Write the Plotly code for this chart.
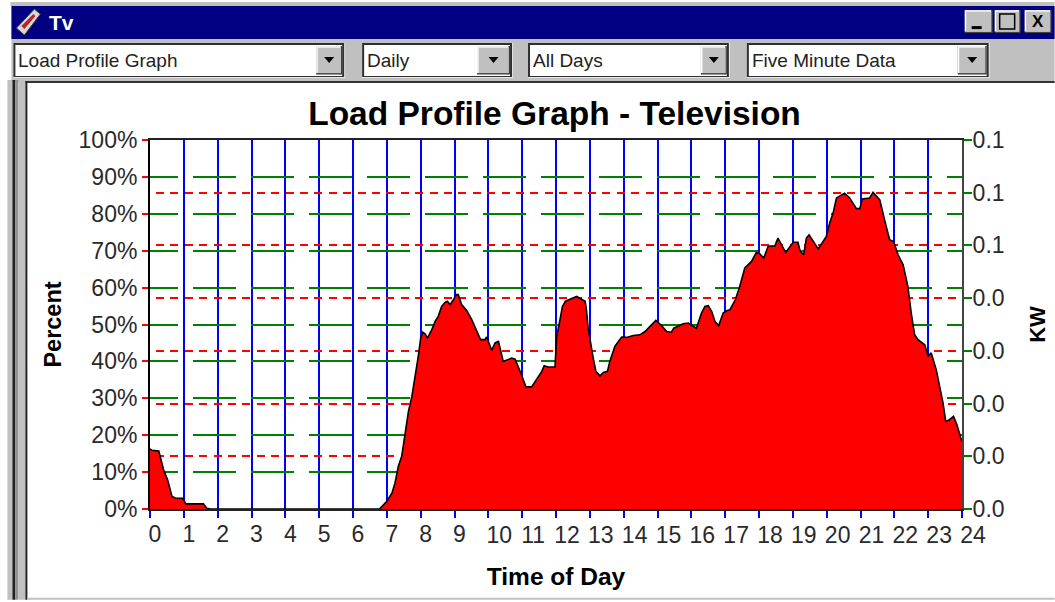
import plotly.graph_objects as go

hours = [0, 0.06, 0.26, 0.32, 0.40, 0.52, 0.65, 0.75, 0.97, 1.06, 1.58, 1.68, 1.78, 3, 5, 6.78,
         7.0, 7.15, 7.24, 7.34, 7.44, 7.54, 7.64, 7.74, 7.83, 7.93, 8.0, 8.06, 8.13, 8.2, 8.33, 8.43, 8.52, 8.62, 8.72, 8.79, 8.87, 8.97, 9.05, 9.11,
         9.21, 9.36, 9.51, 9.66, 9.77, 9.9, 9.95, 10.1, 10.2, 10.3, 10.44, 10.69, 10.79, 10.98, 11.11, 11.28, 11.43, 11.58, 11.65, 11.77, 11.97,
         12.02, 12.1, 12.19, 12.28, 12.46, 12.61, 12.86, 12.9, 12.95, 13.02, 13.1, 13.18, 13.3, 13.4, 13.52, 13.59, 13.74, 13.94, 14.09, 14.28, 14.48,
         14.63, 14.78, 14.85, 14.95, 15.12, 15.27, 15.41, 15.48, 15.76, 15.91, 16.15, 16.3, 16.4, 16.5, 16.6, 16.7, 16.81, 16.94, 17.04, 17.14,
         17.3, 17.43, 17.58, 17.78, 17.92, 18.02, 18.14, 18.27, 18.47, 18.56, 18.79, 19.01, 19.15, 19.22, 19.32, 19.4, 19.48, 19.6, 19.75, 19.99,
         20.09, 20.19, 20.29, 20.53, 20.68, 20.88, 20.98, 21.05, 21.27, 21.37, 21.57, 21.71, 21.86, 21.98, 22.11, 22.26, 22.4, 22.5, 22.6, 22.7,
         22.9, 23.0, 23.09, 23.24, 23.34, 23.44, 23.52, 23.63, 23.75, 23.85, 23.95, 24.0]
percent = [16.3, 15.9, 15.7, 13.8, 10.7, 7.9, 3.4, 3.0, 2.9, 1.4, 1.4, 0.2, 0, 0, 0, 0,
           2.1, 4.3, 7.0, 11.6, 14.3, 20.1, 26.5, 30.5, 35.5, 41.4, 46.3, 47.9, 47.5, 46.3, 48.6, 50.9, 52.2, 54.9, 56.0, 56.3, 55.4, 56.7, 58.1, 58.1,
           55.4, 53.8, 51.3, 48.1, 45.9, 45.9, 46.6, 43.0, 45.0, 45.4, 40.0, 40.9, 40.6, 36.4, 33.1, 33.1, 35.2, 37.3, 38.8, 38.5, 38.5,
           46.8, 50.4, 54.9, 56.3, 56.9, 57.6, 56.3, 54.0, 49.0, 45.0, 40.9, 37.3, 36.1, 37.0, 37.3, 40.0, 44.1, 46.6, 46.5, 47.0, 47.2,
           48.1, 49.5, 50.4, 51.1, 49.7, 48.1, 47.9, 49.0, 50.2, 50.4, 49.0, 53.1, 54.9, 55.1, 53.6, 50.8, 49.7, 53.1, 53.7, 54.0,
           56.7, 60.3, 65.3, 67.1, 69.5, 69.2, 68.0, 71.2, 71.3, 73.4, 69.5, 72.3, 72.3, 69.8, 68.9, 73.4, 74.3, 72.5, 70.5, 73.9,
           77.5, 80.2, 84.3, 85.6, 84.3, 81.4, 81.4, 84.0, 84.3, 85.8, 83.8, 78.4, 73.0, 72.5, 68.9, 66.2, 60.3, 53.1, 47.2, 45.9,
           44.5, 41.4, 42.3, 37.7, 33.2, 28.7, 23.7, 24.2, 25.1, 22.8, 19.7, 18.3]

hour_ticks = list(range(25))
single_digit_labels = [str(h) if h < 10 else "" for h in hour_ticks]
double_digit_ticks = list(range(10, 25))
double_digit_labels = [str(h) for h in double_digit_ticks]
percent_ticks = list(range(0, 101, 10))
percent_labels = [f"{p}%" for p in percent_ticks]
kw_ticks = [0, 0.01, 0.02, 0.03, 0.04, 0.05, 0.06, 0.07]
kw_labels = ["0.0", "0.0", "0.0", "0.0", "0.0", "0.1", "0.1", "0.1"]
menu_labels = ["Load Profile Graph", "Daily", "All Days", "Five Minute Data"]

W, H = 1055, 602
L, R, T, B = 149.7, 962.3, 140.0, 509.3
FONT = "Liberation Sans"
TXT = "#2a2a2a"
GRAY = "#c0c0c0"


def px(x):
    return (x - L) / (R - L)


def py(y):
    return (B - y) / (B - T)


shapes = []


def rect(x0, y0, x1, y1, color):
    shapes.append(dict(type="rect", xref="paper", yref="paper", x0=px(x0), x1=px(x1), y0=py(y0), y1=py(y1),
                       fillcolor=color, line_width=0, layer="below"))


def bevel(x0, y0, x1, y1, face=GRAY):
    rect(x0, y0, x1, y1, "#404040")
    rect(x0, y0, x1 - 1.5, y1 - 1.5, "#ffffff")
    rect(x0 + 1.5, y0 + 1.5, x1 - 1.5, y1 - 1.5, face)


# window chrome
rect(10, 2, W, 6, GRAY)
rect(11, 6, W, 39, "#000080")
rect(11, 39, W, 82, GRAY)
rect(25, 81, W, 83, "#333333")
# left frame
rect(7, 80, 12, 600, GRAY)
rect(12, 80, 15, 600, "#222222")
rect(15, 80, 18, 600, "#909090")
rect(18, 80, 25, 600, GRAY)
rect(25, 81, 27, 600, "#222222")
rect(27, 598, W, 600, GRAY)

combos = [(13, 345, 316), (362, 513, 477), (528, 730, 701), (747, 990, 958)]
annotations = []
for (c0, c1, b0), label in zip(combos, menu_labels):
    rect(c0, 43, c1, 78, "#e8e8e8")
    rect(c0, 43, c1 - 1, 77, "#303030")
    rect(c0 + 2, 45, c1 - 3, 76, "#ffffff")
    bevel(b0, 46, c1 - 3, 74.5)
    ax = (b0 + c1 - 3) / 2
    shapes.append(dict(type="path", xref="paper", yref="paper",
                       path=f"M {px(ax-5)} {py(57)} L {px(ax+5)} {py(57)} L {px(ax)} {py(63)} Z",
                       fillcolor="#000000", line_width=0, layer="below"))
    annotations.append(dict(xref="paper", yref="paper", x=px(c0 + 3), y=py(60.5), text=label, showarrow=False,
                            xanchor="left", yanchor="middle", font=dict(family=FONT, size=19, color="#222222")))

# title-bar buttons
for x0, x1 in [(965, 993), (995, 1021), (1025, 1052)]:
    bevel(x0, 10, x1, 33)
rect(972, 26, 982, 29, "#000000")
shapes.append(dict(type="rect", xref="paper", yref="paper", x0=px(1000), x1=px(1015), y0=py(14), y1=py(29),
                   line=dict(color="#000000", width=1.5), fillcolor="rgba(0,0,0,0)", layer="below"))
annotations.append(dict(xref="paper", yref="paper", x=px(1038.5), y=py(21.5), text="<b>X</b>", showarrow=False,
                        xanchor="center", yanchor="middle", font=dict(family=FONT, size=17, color="#000000")))
annotations.append(dict(xref="paper", yref="paper", x=px(47), y=py(22), text="<b>Tv</b>", showarrow=False,
                        xanchor="left", yanchor="middle", font=dict(family=FONT, size=21, color="#ffffff")))

# window icon
shapes.append(dict(type="path", xref="paper", yref="paper",
                   path=f"M {px(16)} {py(28)} L {px(34)} {py(9)} L {px(40)} {py(14)} L {px(24)} {py(35)} Z",
                   fillcolor="#d8d8d8", line=dict(color="#404040", width=1), layer="below"))
shapes.append(dict(type="path", xref="paper", yref="paper",
                   path=f"M {px(21)} {py(26)} L {px(33)} {py(14)} L {px(35)} {py(16)} L {px(24)} {py(29)} Z",
                   fillcolor="#c02020", line_width=0, layer="below"))

fig = go.Figure()
# invisible companion so the right axis and the second label axis exist
fig.add_trace(go.Scatter(x=[0, 24], y=[0, 0.07], xaxis="x2", yaxis="y2", mode="lines", line=dict(width=0),
                         hoverinfo="skip", showlegend=False))
fig.add_trace(go.Scatter(x=hours, y=percent, mode="lines", fill="tozeroy", fillcolor="#ff0000",
                         line=dict(color="#000000", width=1.6), hoverinfo="skip", showlegend=False))

fig.update_layout(
    width=W, height=H, autosize=False,
    margin=dict(l=L, r=W - R, t=T, b=H - B, pad=0),
    paper_bgcolor="#ffffff", plot_bgcolor="#ffffff",
    font=dict(family=FONT, color=TXT),
    title=dict(text="<b>Load Profile Graph - Television</b>", x=(554.5) / W, xanchor="center",
               y=1 - 113 / H, yanchor="middle", font=dict(family=FONT, size=33.5, color="#000000")),
    xaxis=dict(range=[0, 24], tickmode="array", tickvals=hour_ticks, ticktext=single_digit_labels, automargin=False,
               ticks="outside", ticklen=7, tickwidth=1.5, tickcolor="#0000ff",
               showgrid=True, gridcolor="#0000ff", gridwidth=1.6,
               showline=True, linecolor="#222222", linewidth=2, mirror=True, zeroline=False,
               tickfont=dict(family=FONT, size=23, color=TXT), tickangle=0, ticklabelshift=5, ticklabelstandoff=-4,
               title=dict(text="<b>Time of Day</b>", font=dict(family=FONT, size=24.5, color="#000000"), standoff=22)),
    xaxis2=dict(range=[0, 24], overlaying="x", side="bottom", anchor="y", tickmode="array", automargin=False,
                tickvals=double_digit_ticks, ticktext=double_digit_labels,
                ticks="", showgrid=False, showline=False, zeroline=False,
                tickfont=dict(family=FONT, size=23, color=TXT), tickangle=0, ticklabelshift=11,
                ticklabelstandoff=10),
    yaxis=dict(range=[0, 100], tickmode="array", tickvals=percent_ticks, ticktext=percent_labels, automargin=False,
               ticks="outside", ticklen=6, tickwidth=1.5, tickcolor="#ff0000",
               showgrid=True, gridcolor="#008000", gridwidth=1.5, griddash="28px,15px,15px,0px",
               showline=True, linecolor="#000000", linewidth=2, zeroline=False,
               tickfont=dict(family=FONT, size=23, color=TXT),
               title=dict(text="<b>Percent</b>", font=dict(family=FONT, size=23.5, color="#000000"), standoff=10)),
    yaxis2=dict(range=[0, 0.07], overlaying="y", side="right", anchor="x", tickmode="array", tickvals=kw_ticks,
                ticktext=kw_labels, automargin=False,
                ticks="outside", ticklen=8, tickwidth=1.5, tickcolor="#008000",
                showgrid=True, gridcolor="#ff0000", gridwidth=1.5, griddash="0px,6px,8px,0.4px",
                showline=True, linecolor="#444444", linewidth=2, zeroline=False,
                tickfont=dict(family=FONT, size=23, color=TXT), ticklabelstandoff=-4,
                title=dict(text="<b>KW</b>", font=dict(family=FONT, size=22, color="#000000"), standoff=26)),
    shapes=shapes, annotations=annotations,
)
fig.write_html("out.html", config={"displayModeBar": False}, post_script="document.body.style.margin='0';")
